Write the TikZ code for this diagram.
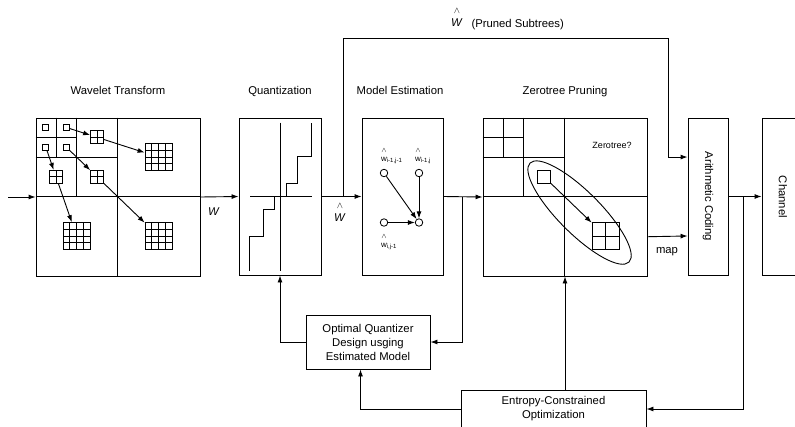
\documentclass[tikz,border=0pt]{standalone}
\usepackage{fontspec}
\setmainfont{Liberation Sans}
\usetikzlibrary{
  arrows.meta, % Latex 箭头
  calc,        % 锚点插值
  positioning
}
\newcommand{\wcap}[1]{{\fontsize{#1}{#1}\selectfont$\wedge$}}
\tikzset{
  block/.style={draw, line width=0.9pt, inner sep=0pt},
  wire/.style={line width=0.9pt},
  flow/.style={-{Latex[length=7pt,width=5pt]}, line width=0.9pt},
  coef/.style={draw, line width=0.8pt, inner sep=0pt, minimum size=6pt},
  quad/.style={coef, minimum size=13pt, path picture={
      \draw[line width=0.8pt]
        (path picture bounding box.north) -- (path picture bounding box.south)
        (path picture bounding box.west) -- (path picture bounding box.east);}},
  sixteen/.style={coef, minimum size=27pt, path picture={
      \foreach \f in {0.25,0.5,0.75} {
        \draw[line width=0.8pt]
          ($(path picture bounding box.north west)!\f!(path picture bounding box.north east)$) --
          ($(path picture bounding box.south west)!\f!(path picture bounding box.south east)$)
          ($(path picture bounding box.north west)!\f!(path picture bounding box.south west)$) --
          ($(path picture bounding box.north east)!\f!(path picture bounding box.south east)$);
      }}},
  ctx/.style={circle, draw, line width=0.8pt, inner sep=0pt, minimum size=7.5pt},
  title/.style={anchor=base},
  hatlbl/.style={align=center, inner sep=0pt}
}

\begin{document}
\begin{tikzpicture}[x=1pt, y=-1pt, font=\fontsize{11.3}{14}\selectfont]
  \useasboundingbox[fill=white] (0,0) rectangle (795,426);

  % --- 主要方框 ---
  \node[block, minimum width=164pt, minimum height=158pt] (wt) at (118,197) {};
  \node[block, minimum width=82pt, minimum height=157pt] (qz) at (280,196.5) {};
  \node[block, minimum width=81pt, minimum height=157pt] (me) at (402.5,196.5) {};
  \node[block, minimum width=164pt, minimum height=158pt] (zp) at (565,197) {};
  \node[block, minimum width=40pt, minimum height=157pt] (ac) at (708,196.5) {};
  \node[block, minimum width=42pt, minimum height=157pt] (ch) at (783,196.5) {};
  \node[block, align=center, minimum width=124pt, minimum height=54pt] (oq) at (368,342)
    {Optimal Quantizer\\Design usging\\Estimated Model};
  \node[block, align=center, minimum width=185pt, minimum height=38pt] (ec) at (553.5,409)
    {Entropy-Constrained\\Optimization};

  % 标题
  \node[title] (twt) at (118,94) {Wavelet Transform};
  \node[title] (tqz) at (280,94) {Quantization};
  \node[title] (tme) at (400,94) {Model Estimation};
  \node[title] (tzp) at (565,94) {Zerotree Pruning};
  \node[rotate=-90] (tac) at (ac.center) {Arithmetic Coding};
  \node[rotate=-90] (tch) at (783,197) {Channel};

  % --- 小波分解的子带划分 (两处相同) ---
  \foreach \b in {wt,zp} {
    \begin{scope}[shift={(\b.north west)}]
      \foreach \k in {1,2,4}
        \draw[wire] (82/\k,0) -- (82/\k,158/\k) (0,79/\k) -- (164/\k,79/\k);
    \end{scope}
  }

  % --- 左侧：系数树 ---
  \begin{scope}[shift={(wt.north west)}]
    \node[coef] (ll3) at (10.25,9.9) {};  \node[coef] (hl3) at (30.75,9.9) {};
    \node[coef] (lh3) at (10.25,29.6) {}; \node[coef] (hh3) at (30.75,29.6) {};
    \node[quad] (hl2) at (61.5,19.75) {};
    \node[quad] (lh2) at (20.5,59.25) {};
    \node[quad] (hh2) at (61.5,59.25) {};
    \node[sixteen] (hl1) at (123,39.5) {};
    \node[sixteen] (lh1) at (41,118.5) {};
    \node[sixteen] (hh1) at (123,118.5) {};
  \end{scope}
  \foreach \o in {hl,lh,hh} {
    \draw[flow] (\o3) -- (\o2);
    \draw[flow] (\o2) -- (\o1);
  }

  % --- 量化器阶梯 ---
  \begin{scope}[shift={(qz.center)}]
    \draw[wire] (0,-74) -- (0,74) (-30,0) -- (32,0);
    \draw[wire] (-31,74) |- (-17,40) |- (-6,13) |- (6,0) |- (17,-13) |- (31,-40) -- (31,-74);
  \end{scope}

  % --- 模型估计 ---
  \node[ctx] (m1) at (384,173) {};   \node[ctx] (m2) at (419,173) {};
  \node[ctx] (m3) at (384,222.5) {}; \node[ctx] (m0) at (419,222.5) {};
  \draw[flow] (m1) -- (m0);
  \draw[flow] (m2) -- (m0);
  \draw[flow] (m3) -- (m0);
  \begin{scope}[font=\fontsize{8}{9}\selectfont]
    \node[hatlbl] (lm1) at (384,156) {\wcap{7}\\[0pt]w\rlap{\textsubscript{i-1,j-1}}};
    \node[hatlbl] (lm2) at (418,156) {\wcap{7}\\[0pt]w\rlap{\textsubscript{i-1,j}}};
    \node[hatlbl] (lm3) at (384,242) {\wcap{7}\\[0pt]w\rlap{\textsubscript{i,j-1}}};
  \end{scope}

  % --- 零树剪枝 ---
  \begin{scope}[shift={(zp.north west)}]
    \node[coef, minimum size=13pt] (zsq) at (61.5,59.25) {};
    \node[quad, minimum size=27pt] (zgr) at (123,118.5) {};
    \draw[wire, rotate around={-45:(97,95)}] (97,95) ellipse [x radius=70, y radius=21];
  \end{scope}
  \draw[flow] (zsq) -- (zgr);
  \node[font=\fontsize{9}{10}\selectfont] (lzt) at (612,145) {Zerotree?};

  % --- 信号通路 ---
  \coordinate (src) at (8,197);
  \coordinate (jq) at (343,197);
  \coordinate (jtop) at (668,38);
  \coordinate (jm) at (462,197);
  \coordinate (ja) at (743,197);
  \coordinate (acin) at ($(ac.north west)!0.25!(ac.south west)$);
  \coordinate (acmap) at ($(ac.north west)!0.75!(ac.south west)$);
  \coordinate (zpout) at ($(zp.north east)!0.75!(zp.south east)$);
  \coordinate (oqin) at ($(oq.south west)!0.44!(oq.south east)$);

  \draw[flow] (src) -- (wt.west);
  \draw[flow] (wt.east) -- (qz.west);
  \draw[flow] (qz.east) -- (me.west);
  \draw[flow] (me.east) -- (zp.west);
  \draw[flow] (ac.east) -- (ch.west);
  \draw[flow] (jq) |- (jtop) |- (acin);
  \draw[flow] (zpout) -- (acmap);
  \draw[flow] (jm) |- (oq.east);
  \draw[flow] (oq.west) -| (qz.south);
  \draw[flow] (ec.west) -| (oqin);
  \draw[flow] (zp.south |- ec.north) -- (zp.south);
  \draw[flow] (ja) |- (ec.east);

  % 标注
  \node (lw) at (214,212) {\textit{W}};
  \node[hatlbl] (lwh) at (340,212) {\wcap{9}\\[-1pt]\textit{W}};
  \node[hatlbl] (lwt) at (457,17) {\wcap{9}\\[-1pt]\textit{W}};
  \node[anchor=base west] (lps) at (468,27) {(Pruned Subtrees)};
  \node (lmap) at (667,252) {map};
\end{tikzpicture}
\end{document}
